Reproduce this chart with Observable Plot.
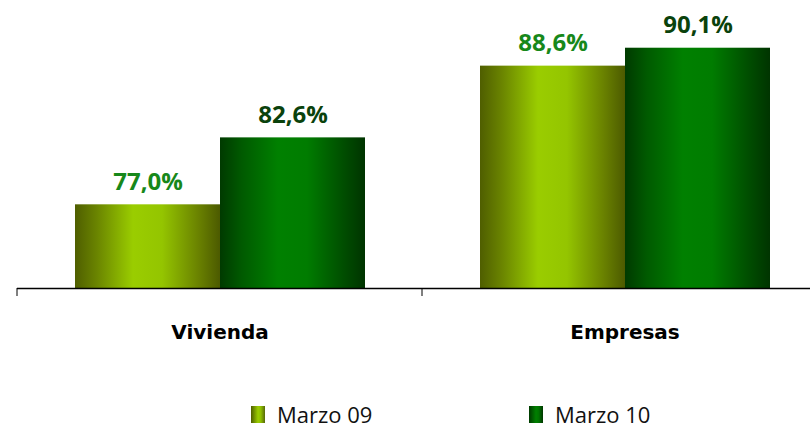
<!DOCTYPE html>
<html>
<head>
<meta charset="utf-8">
<script src="https://cdn.jsdelivr.net/npm/d3@7"></script>
<script src="https://cdn.jsdelivr.net/npm/@observablehq/plot@0.6"></script>
<style>
  html, body { margin: 0; padding: 0; background: #fff; overflow: hidden; }
  #chart { width: 810px; }
  #chart svg g[aria-label^="fx-axis"] text { font-family: "DejaVu Sans", sans-serif; font-size: 20px; font-weight: bold; fill: #000; }
  .legend { display: flex; padding-left: 251px; height: 32px; margin-top: 38px; align-items: center; font-family: "Open Sans", sans-serif; font-size: 22px; color: #111; }
  .legend .item { display: flex; align-items: center; width: 278px; }
  .legend .sw { width: 14px; height: 17px; margin-right: 12px; }
  .sw09 { background: linear-gradient(to right, #4f5e00, #9acd00 50%, #8fbf00 70%, #56680a); }
  .sw10 { background: linear-gradient(to right, #003a00, #008000 50%, #007400 70%, #003600); }
</style>
</head>
<body>
<div id="chart"></div>
<script>
const categories = ["Vivienda", "Empresas"];
const series = ["Marzo 09", "Marzo 10"];
const valuesMarzo09 = [77.0, 88.6];
const valuesMarzo10 = [82.6, 90.1];
const axisMin = 70;
const axisMax = 92;

const rows = [];
categories.forEach((c, i) => {
  rows.push({category: c, series: series[0], value: valuesMarzo09[i]});
  rows.push({category: c, series: series[1], value: valuesMarzo10[i]});
});
const fmt = v => v.toFixed(1).replace(".", ",") + "%";

const svg = Plot.plot({
  width: 810,
  height: 360,
  marginLeft: 17,
  marginRight: -17,
  marginTop: 25,
  marginBottom: 72,
  style: {fontFamily: "'Open Sans', sans-serif", fontSize: "20px", fontWeight: "bold", color: "#000", background: "#fff"},
  facet: {data: rows, x: "category"},
  fx: {domain: categories, paddingInner: 0, paddingOuter: 0, label: null, tickSize: 0, tickPadding: 36},
  x: {domain: series, paddingInner: 0, paddingOuter: 0.387, axis: null},
  y: {domain: [axisMin, axisMax], axis: null},
  marks: [
    Plot.barY(rows, {x: "series", y1: axisMin, y2: "value", fill: "url(#g09)", filter: d => d.series === series[0]}),
    Plot.barY(rows, {x: "series", y1: axisMin, y2: "value", fill: "url(#g10)", filter: d => d.series === series[1]}),
    Plot.text(rows, {x: "series", y: "value", text: d => fmt(d.value), dy: -23, fontSize: 24, fontWeight: "bold", fill: "#17881a", filter: d => d.series === series[0]}),
    Plot.text(rows, {x: "series", y: "value", text: d => fmt(d.value), dy: -23, fontSize: 24, fontWeight: "bold", fill: "#0a420c", filter: d => d.series === series[1]}),
    Plot.ruleY([axisMin], {stroke: "#000", strokeWidth: 1.5})
  ]
});

const sel = d3.select(svg);
const defs = sel.insert("defs", ":first-child");
function grad(id, stops) {
  const g = defs.append("linearGradient").attr("id", id).attr("x1", 0).attr("x2", 1).attr("y1", 0).attr("y2", 0);
  stops.forEach(([o, c]) => g.append("stop").attr("offset", o).attr("stop-color", c));
}
grad("g09", [[0, "#4f5e00"], [0.15, "#6a8400"], [0.4, "#9acd00"], [0.6, "#94c500"], [0.85, "#6a8200"], [1, "#4c5a00"]]);
grad("g10", [[0, "#003a00"], [0.15, "#005a00"], [0.4, "#008000"], [0.6, "#007c00"], [0.85, "#004e00"], [1, "#003400"]]);

// Category boundary ticks from the library's scales
try {
  const fxS = svg.scale("fx");
  const yS = svg.scale("y");
  const y0 = yS.apply(axisMin);
  const bounds = fxS.domain.map(v => fxS.apply(v));
  bounds.push(fxS.apply(fxS.domain[fxS.domain.length - 1]) + fxS.bandwidth);
  sel.append("g").selectAll("line").data(bounds).join("line")
    .attr("x1", d => d).attr("x2", d => d)
    .attr("y1", y0).attr("y2", y0 + 8)
    .attr("stroke", "#000").attr("stroke-width", 1);
} catch (e) { console.error(e); }

document.getElementById("chart").appendChild(svg);

const legend = document.createElement("div");
legend.className = "legend";
series.forEach((s, i) => {
  const item = document.createElement("div");
  item.className = "item";
  const sw = document.createElement("span");
  sw.className = "sw " + (i === 0 ? "sw09" : "sw10");
  const t = document.createElement("span");
  t.textContent = s;
  item.appendChild(sw);
  item.appendChild(t);
  legend.appendChild(item);
});
document.getElementById("chart").appendChild(legend);
</script>
</body>
</html>
